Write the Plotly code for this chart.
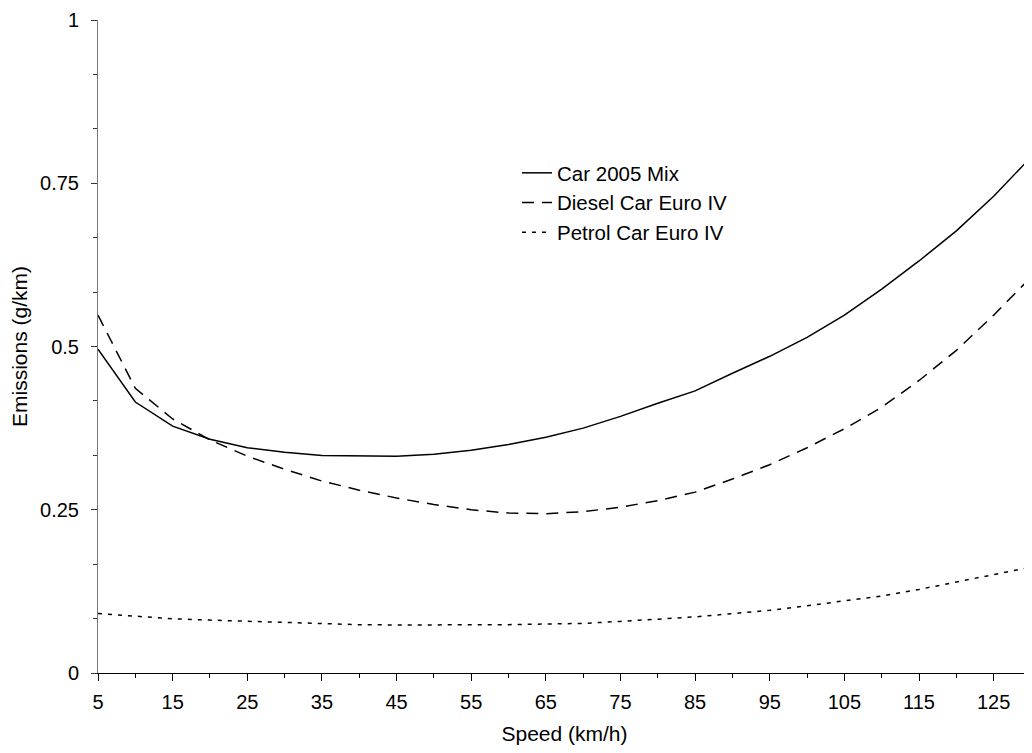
import plotly.graph_objects as go

speed = [5, 10, 15, 20, 25, 30, 35, 40, 45, 50, 55, 60, 65, 70, 75, 80, 85,
         90, 95, 100, 105, 110, 115, 120, 125, 130]

car_mix = [0.496, 0.415, 0.378, 0.358, 0.345, 0.338, 0.333, 0.332, 0.332, 0.335,
           0.341, 0.350, 0.361, 0.375, 0.393, 0.413, 0.432, 0.459, 0.485, 0.514,
           0.548, 0.588, 0.631, 0.677, 0.730, 0.790]

diesel = [0.548, 0.436, 0.389, 0.357, 0.332, 0.312, 0.294, 0.280, 0.268, 0.258,
          0.250, 0.245, 0.244, 0.247, 0.254, 0.264, 0.277, 0.297, 0.319, 0.345,
          0.374, 0.407, 0.448, 0.494, 0.548, 0.606]

petrol = [0.091, 0.087, 0.083, 0.081, 0.079, 0.077, 0.075, 0.074, 0.0735, 0.0735,
          0.0735, 0.074, 0.075, 0.076, 0.079, 0.082, 0.086, 0.091, 0.096, 0.103,
          0.110, 0.118, 0.128, 0.139, 0.150, 0.162]

names = ["Car 2005 Mix", "Diesel Car Euro IV", "Petrol Car Euro IV"]
series = [car_mix, diesel, petrol]
dashes = ["solid", "12px,8px", "4px,6px"]

FONT = "Liberation Sans, Arial, sans-serif"

fig = go.Figure()
for name, vals, dash in zip(names, series, dashes):
    fig.add_trace(go.Scatter(x=speed, y=vals, name=name, mode="lines",
                             line=dict(color="black", width=1.5, dash=dash)))

# page body has an 8px margin: figure sized so the plot area lands on the
# reference's pixels (x 98..1031, y 20..673)
fig.update_layout(
    width=1024, height=737,
    margin=dict(l=90, r=1, t=12, b=72),
    paper_bgcolor="white", plot_bgcolor="white",
    font=dict(family=FONT, size=20, color="black"),
    showlegend=True,
    legend=dict(x=(517 - 98) / 933, y=(673 - 153) / 653, xanchor="left", yanchor="top",
                bgcolor="rgba(0,0,0,0)", font=dict(size=20.5), itemwidth=30,
                tracegroupgap=0),
    xaxis=dict(range=[5, 130], tick0=5, dtick=10, ticks="outside", ticklen=7,
               tickcolor="black", showline=True, linecolor="black", linewidth=1,
               showgrid=False, zeroline=False, automargin=False,
               minor=dict(ticks="outside", ticklen=4, tick0=10, dtick=10, tickcolor="black"),
               title=dict(text="Speed (km/h)", standoff=21, font=dict(size=21)),
               ticklabelstandoff=4),
    yaxis=dict(range=[0, 1], tick0=0, dtick=0.25, ticks="outside", ticklen=6,
               tickcolor="#333", showline=True, linecolor="#777", linewidth=1,
               showgrid=False, zeroline=False, automargin=False,
               minor=dict(ticks="outside", ticklen=4, tick0=0, dtick=1/12, tickcolor="#333"),
               title=dict(text="Emissions (g/km)", standoff=10, font=dict(size=21)),
               ticklabelstandoff=8),
    xaxis2=dict(overlaying="x", anchor="y", matches="x", range=[5, 130], tick0=5, dtick=10,
                ticks="inside", ticklen=7, tickcolor="black", showticklabels=False,
                showline=False, showgrid=False, zeroline=False, automargin=False),
    yaxis2=dict(overlaying="y", anchor="x", matches="y", range=[0, 1], tick0=0, dtick=0.25,
                ticks="inside", ticklen=7, tickcolor="#333", showticklabels=False,
                showline=False, showgrid=False, zeroline=False, automargin=False),
)

fig.write_html("out.html")
